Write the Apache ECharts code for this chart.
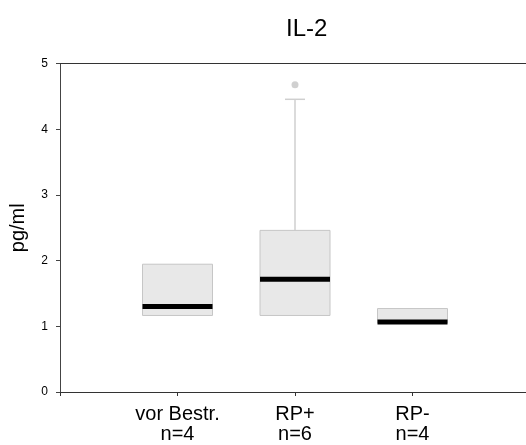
<!DOCTYPE html>
<html>
<head>
<meta charset="utf-8">
<script src="https://cdn.jsdelivr.net/npm/echarts@6/dist/echarts.min.js"></script>
<style>
  html, body { margin: 0; padding: 0; background: #fff; }
  #main { width: 526px; height: 445px; }
</style>
</head>
<body>
<div id="main"></div>
<script>
// Gruppen und Boxplot-Kennwerte
const categories = ['vor Bestr.\nn=4', 'RP+\nn=6', 'RP-\nn=4']
const lowValues = [1.165, 1.165, 1.05]
const q1Values = [1.165, 1.165, 1.05]
const medianValues = [1.30, 1.715, 1.065]
const q3Values = [1.945, 2.46, 1.27]
const highValues = [1.945, 4.455, 1.27]
const outliers = [[2, 4.675]]
const yTicks = [0, 1, 2, 3, 4, 5]

const fontFamily = 'Liberation Sans, Arial, sans-serif'
const boxWidth = 70
const capWidth = 20

const boxData = categories.map((c, i) => [i + 1, lowValues[i], q1Values[i], medianValues[i], q3Values[i], highValues[i]])

function renderBox (params, api) {
  const x = api.value(0)
  const pLow = api.coord([x, api.value(1)])
  const pQ1 = api.coord([x, api.value(2)])
  const pMed = api.coord([x, api.value(3)])
  const pQ3 = api.coord([x, api.value(4)])
  const pHigh = api.coord([x, api.value(5)])
  const cx = pQ1[0]
  const half = boxWidth / 2
  const children = []
  const whiskerStyle = { stroke: '#cfcfcf', lineWidth: 1.5 }
  if (pHigh[1] < pQ3[1] - 0.5) {
    children.push({ type: 'line', shape: { x1: cx, y1: pQ3[1], x2: cx, y2: pHigh[1] }, style: whiskerStyle })
    children.push({ type: 'line', shape: { x1: cx - capWidth / 2, y1: pHigh[1], x2: cx + capWidth / 2, y2: pHigh[1] }, style: whiskerStyle })
  }
  if (pLow[1] > pQ1[1] + 0.5) {
    children.push({ type: 'line', shape: { x1: cx, y1: pQ1[1], x2: cx, y2: pLow[1] }, style: whiskerStyle })
    children.push({ type: 'line', shape: { x1: cx - capWidth / 2, y1: pLow[1], x2: cx + capWidth / 2, y2: pLow[1] }, style: whiskerStyle })
  }
  children.push({
    type: 'rect',
    shape: { x: cx - half, y: pQ3[1], width: boxWidth, height: pQ1[1] - pQ3[1] },
    style: { fill: '#e8e8e8', stroke: '#c6c6c6', lineWidth: 1 }
  })
  children.push({
    type: 'rect',
    shape: { x: cx - half, y: pMed[1] - 2.5, width: boxWidth, height: 5 },
    style: { fill: '#000' }
  })
  return { type: 'group', children: children }
}

const myChart = echarts.init(document.getElementById('main'))
myChart.setOption({
  animation: false,
  title: {
    text: 'IL-2',
    left: 281,
    top: 12,
    textStyle: { fontFamily: fontFamily, fontSize: 24, fontWeight: 'normal', color: '#000' }
  },
  grid: { left: 60, top: 63.5, width: 470, bottom: 53, outerBoundsMode: 'none', containLabel: false },
  xAxis: [
    {
      type: 'value',
      min: 0,
      max: 4,
      interval: 1,
      position: 'bottom',
      splitLine: { show: false },
      axisLine: { lineStyle: { color: '#333', width: 1 } },
      axisTick: { length: 4, lineStyle: { color: '#333' } },
      axisLabel: {
        margin: 12,
        color: '#000',
        fontFamily: fontFamily,
        fontSize: 20,
        lineHeight: 20,
        showMinLabel: true,
        showMaxLabel: true,
        formatter: function (v) { return categories[v - 1] || '' }
      }
    },
    {
      type: 'value',
      min: 0,
      max: 4,
      position: 'top',
      splitLine: { show: false },
      axisLine: { show: true, lineStyle: { color: '#333', width: 1 } },
      axisTick: { show: false },
      axisLabel: { show: false }
    }
  ],
  yAxis: {
    type: 'value',
    min: yTicks[0],
    max: yTicks[yTicks.length - 1],
    interval: 1,
    name: 'pg/ml',
    nameLocation: 'middle',
    nameGap: 32,
    nameTextStyle: { fontFamily: fontFamily, fontSize: 20, color: '#000' },
    splitLine: { show: false },
    axisLine: { show: true, lineStyle: { color: '#444', width: 1 } },
    axisTick: { show: true, length: 4, lineStyle: { color: '#444' } },
    axisLabel: { margin: 12, color: '#000', fontFamily: fontFamily, fontSize: 12 }
  },
  series: [
    {
      type: 'custom',
      renderItem: renderBox,
      data: boxData,
      encode: { x: 0, y: [1, 2, 3, 4, 5] },
      clip: false
    },
    {
      type: 'scatter',
      data: outliers,
      symbol: 'circle',
      symbolSize: 7,
      itemStyle: { color: '#c4c4c4' }
    }
  ]
})
</script>
</body>
</html>
